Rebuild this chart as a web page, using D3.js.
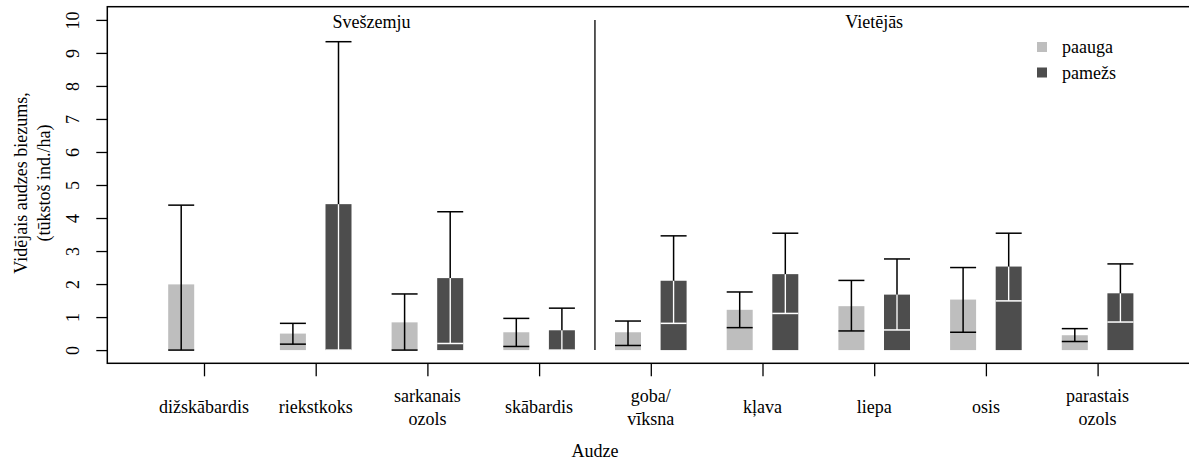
<!DOCTYPE html>
<html>
<head>
<meta charset="utf-8">
<script src="https://cdn.jsdelivr.net/npm/d3@7"></script>
<style>
  body { margin: 0; background: #fff; }
</style>
</head>
<body>
<svg id="chart" width="1189" height="461"></svg>
<script>
// Data
const categories = ['dižskābardis', 'riekstkoks', 'sarkanais\nozols', 'skābardis',
  'goba/\nvīksna', 'kļava', 'liepa', 'osis', 'parastais\nozols'];
const origin = ['Svešzemju', 'Svešzemju', 'Svešzemju', 'Svešzemju',
  'Vietējās', 'Vietējās', 'Vietējās', 'Vietējās', 'Vietējās'];
const series = ['paauga', 'pamežs'];

const paaugaMean = [1.99, 0.50, 0.84, 0.54, 0.54, 1.22, 1.33, 1.53, 0.45];
const paaugaLow  = [0.00, 0.18, 0.00, 0.11, 0.14, 0.68, 0.58, 0.54, 0.26];
const paaugaHigh = [4.39, 0.81, 1.70, 0.96, 0.88, 1.76, 2.11, 2.50, 0.65];

const pamezsMean = [null, 4.42, 2.18, 0.60, 2.10, 2.30, 1.68, 2.53, 1.72];
const pamezsLow  = [null, 0.00, 0.20, 0.00, 0.81, 1.11, 0.61, 1.49, 0.85];
const pamezsHigh = [null, 9.34, 4.19, 1.27, 3.46, 3.54, 2.76, 3.54, 2.61];

const yTicks = [0, 1, 2, 3, 4, 5, 6, 7, 8, 9, 10];

// Configuration
const colors = {paauga: '#bebebe', pamežs: '#4d4d4d'};
const font = '"Liberation Serif", "DejaVu Serif", serif';
const barW = 26;
const capW = 26;

const svg = d3.select('#chart').style('font-family', font);

const y = d3.scaleLinear().domain([-0.4, 10.4]).range([363.3, 6.7]);
const x = d3.scalePoint().domain(categories).range([204, 1097.6]);
const xSub = d3.scalePoint().domain(series).range([-22.8, 22.8]);

const rows = [];
categories.forEach((c, i) => {
  rows.push({cat: c, s: 'paauga', mean: paaugaMean[i], low: paaugaLow[i], high: paaugaHigh[i]});
  if (pamezsMean[i] != null) {
    rows.push({cat: c, s: 'pamežs', mean: pamezsMean[i], low: pamezsLow[i], high: pamezsHigh[i]});
  }
});
const cx = d => x(d.cat) + xSub(d.s);

function label(sel) {
  return sel.style('font-family', font).style('font-size', '18px').attr('fill', '#000');
}

// bars
svg.append('g').selectAll('rect').data(rows).join('rect')
    .attr('x', d => cx(d) - barW / 2)
    .attr('width', barW)
    .attr('y', d => y(d.mean))
    .attr('height', d => y(0) - y(d.mean))
    .attr('fill', d => colors[d.s]);

// error bars, black outside, white inside the dark bars
const err = svg.append('g').attr('stroke-width', 1.5);
err.selectAll('line.v').data(rows).join('line')
    .attr('class', 'v')
    .attr('x1', cx).attr('x2', cx)
    .attr('y1', d => y(d.low)).attr('y2', d => y(d.high))
    .attr('stroke', '#000');
err.selectAll('line.hi').data(rows).join('line')
    .attr('class', 'hi')
    .attr('x1', d => cx(d) - capW / 2).attr('x2', d => cx(d) + capW / 2)
    .attr('y1', d => y(d.high)).attr('y2', d => y(d.high))
    .attr('stroke', '#000');
const dark = rows.filter(d => d.s === 'pamežs');
err.selectAll('line.vin').data(dark).join('line')
    .attr('class', 'vin')
    .attr('x1', cx).attr('x2', cx)
    .attr('y1', d => y(d.low)).attr('y2', d => y(Math.min(d.mean, d.high)))
    .attr('stroke', '#fff');
err.selectAll('line.lo').data(rows).join('line')
    .attr('class', 'lo')
    .attr('x1', d => cx(d) - capW / 2).attr('x2', d => cx(d) + capW / 2)
    .attr('y1', d => y(d.low)).attr('y2', d => y(d.low))
    .attr('stroke', d => d.s === 'pamežs' ? '#fff' : '#000');

// separator between groups
const sepX = (x(categories[3]) + x(categories[4])) / 2;
svg.append('line')
    .attr('x1', sepX).attr('x2', sepX)
    .attr('y1', y(0)).attr('y2', y(10))
    .attr('stroke', '#000').attr('stroke-width', 1.3);

// group headers
d3.groups(categories.map((c, i) => ({c, o: origin[i]})), d => d.o).forEach(([o, list]) => {
  const mid = (x(list[0].c) + x(list[list.length - 1].c)) / 2;
  svg.append('text')
      .attr('x', mid).attr('y', 28)
      .attr('text-anchor', 'middle')
      .call(label)
      .text(o);
});

// box
svg.append('rect')
    .attr('x', 107.3).attr('y', 6.7)
    .attr('width', 1200).attr('height', 363.3 - 6.7)
    .attr('fill', 'none').attr('stroke', '#000').attr('stroke-width', 1.5);

// y axis
const yAxis = svg.append('g')
    .attr('transform', 'translate(107.3,0)')
    .call(d3.axisLeft(y).tickValues(yTicks).tickSize(11).tickPadding(0).tickFormat(d3.format('d')));
yAxis.select('.domain').remove();
yAxis.selectAll('line').attr('stroke', '#000').attr('stroke-width', 1.3);
yAxis.selectAll('text')
    .attr('x', null).attr('dy', null)
    .attr('transform', 'translate(-28,0) rotate(-90)')
    .attr('text-anchor', 'middle')
    .call(label);

// x axis
const xAxis = svg.append('g')
    .attr('transform', 'translate(0,363.3)')
    .call(d3.axisBottom(x).tickSize(13).tickFormat(''));
xAxis.select('.domain').remove();
xAxis.selectAll('line').attr('stroke', '#000').attr('stroke-width', 1.3);

categories.forEach(c => {
  const lines = c.split('\n');
  const t = svg.append('text')
      .attr('x', x(c))
      .attr('text-anchor', 'middle')
      .call(label);
  const lh = 23;
  const y0 = 413 - (lines.length - 1) * lh / 2;
  lines.forEach((l, j) => {
    t.append('tspan').attr('x', x(c)).attr('y', y0 + j * lh).text(l);
  });
});

// axis titles
svg.append('text')
    .attr('x', 595).attr('y', 457)
    .attr('text-anchor', 'middle')
    .call(label)
    .text('Audze');

const yTitle = svg.append('text')
    .attr('transform', 'translate(27,183) rotate(-90)')
    .attr('text-anchor', 'middle')
    .call(label);
yTitle.append('tspan').attr('x', 0).attr('y', 0).text('Vidējais audzes biezums,');
yTitle.append('tspan').attr('x', 0).attr('y', 23).text('(tūkstoš ind./ha)');

// legend
const legend = svg.append('g').attr('transform', 'translate(1037,0)');
series.forEach((s, i) => {
  const ly = 47 + i * 25.5;
  legend.append('rect')
      .attr('x', 0).attr('y', ly - 5)
      .attr('width', 10).attr('height', 10)
      .attr('fill', colors[s]);
  legend.append('text')
      .attr('x', 25).attr('y', ly + 6)
      .call(label)
      .text(s);
});
</script>
</body>
</html>
